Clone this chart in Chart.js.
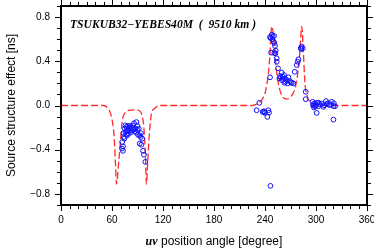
<!DOCTYPE html>
<html>
<head>
<meta charset="utf-8">
<script src="https://cdn.jsdelivr.net/npm/chart.js@4/dist/chart.umd.min.js"></script>
<style>
html,body{margin:0;padding:0;background:#fff;}
canvas{display:block;}
</style>
</head>
<body>
<canvas id="c" width="374" height="252"></canvas>
<script>
// ---- data ----
const chartTitle = "TSUKUB32\u2212YEBES40M  (  9510 km )";
const xTitleItalic = "uv";
const xTitleRest = " position angle [degree]";
const yTitle = "Source structure effect [ns]";

const xMajorTicks = [0, 60, 120, 180, 240, 300, 360];
const xMinorTicks = [10,20,30,40,50,70,80,90,100,110,130,140,150,160,170,190,200,210,220,230,250,260,270,280,290,310,320,330,340,350];
const yMajorTicks = [-0.8, -0.4, 0.0, 0.4, 0.8];
const yMinorTicks = [-0.9,-0.7,-0.6,-0.5,-0.3,-0.2,-0.1,0.1,0.2,0.3,0.5,0.6,0.7,0.9];

// model curve (red dashed)
const modelAngles = [0, 50, 55.3, 59.3, 62.4, 64.0, 65.2, 67.9, 69.9, 71.8, 74.9, 80.8, 85.0, 90.6, 95.3, 97.6, 99.3, 100.5, 102.4, 104.4, 106.4, 110.2, 115,
  225, 230, 236, 240, 242, 244, 245.9, 247.9, 250.6, 253.0, 255.7, 259.6, 265.5, 270.2, 275.3, 278.5, 281.2, 283.2, 285.2, 287.0, 289.9, 295, 300, 305, 360];
const modelValues = [0, 0, -0.027, -0.10, -0.27, -0.51, -0.71, -0.51, -0.33, -0.15, -0.073, -0.043, -0.04, -0.043, -0.088, -0.21, -0.45, -0.71, -0.45, -0.21, -0.073, -0.027, 0,
  0, 0.012, 0.048, 0.109, 0.185, 0.29, 0.47, 0.715, 0.594, 0.35, 0.2, 0.094, 0.057, 0.078, 0.155, 0.29, 0.503, 0.715, 0.47, 0.2, 0.078, 0.024, 0.005, 0, 0];

// observed points (blue circles)
const obsAngles = [
  72.9, 71.8, 72.9, 72.0, 92.6, 94.6, 96.5, 97.6, 99.2,
  75.0, 75.7, 76.9, 78.8, 79.6, 82.0, 82.8, 84.7, 86.7, 88.7, 90.6, 92.6, 93.8, 74.1, 75.7, 78.8, 84.7, 89.9, 91.4, 88.7, 85.9, 80.8, 76.9,
  77.5, 80.0, 81.5, 83.5, 87.5, 89.5, 73.5, 74.5, 77.8, 95.5, 94.0,
  230.2, 233.4, 237.3, 238.8, 240.0, 244.0, 244.7, 242.8, 239.0, 245.9,
  245.9, 247.9, 249.0, 246.7, 250.6, 247.1, 251.0, 251.0, 251.8, 252.6, 252.2, 253.8, 253.8, 248.5, 250.0,
  255.3, 259.6, 257.7, 260.8, 262.4, 263.5, 265.5, 262.8, 266.7, 269.4, 271.4, 273.4, 267.5, 259.6, 256.9, 261.0, 264.0, 258.5, 270.5,
  275.0, 277.3, 279.3, 278.5, 282.0, 284.4, 283.2, 282.8,
  287.9, 287.9,
  296.0, 297.0, 298.8, 297.6, 301.6, 304.0, 306.7, 309.4, 311.8, 312.6, 315.8, 318.5, 320.5, 322.4, 300.8, 320.5, 302.8, 308.7, 299.0, 300.0, 303.0, 314.0, 317.0, 321.0, 296.5,
  246.4];
const obsValues = [
  -0.37, -0.39, -0.41, -0.33, -0.345, -0.355, -0.41, -0.445, -0.51,
  -0.21, -0.24, -0.26, -0.225, -0.255, -0.21, -0.24, -0.215, -0.235, -0.245, -0.265, -0.27, -0.285, -0.285, -0.18, -0.185, -0.18, -0.185, -0.21, -0.15, -0.16, -0.185, -0.195,
  -0.23, -0.2, -0.225, -0.2, -0.21, -0.22, -0.25, -0.3, -0.27, -0.3, -0.25,
  -0.043, 0.024, -0.058, -0.052, -0.067, -0.043, -0.064, -0.103, -0.06, 0.255,
  0.618, 0.64, 0.624, 0.61, 0.63, 0.478, 0.473, 0.564, 0.539, 0.496, 0.473, 0.427, 0.396, 0.6, 0.58,
  0.336, 0.297, 0.266, 0.26, 0.275, 0.245, 0.23, 0.205, 0.2, 0.22, 0.205, 0.2, 0.255, 0.23, 0.245, 0.24, 0.215, 0.255, 0.21,
  0.305, 0.366, 0.418, 0.396, 0.518, 0.518, 0.533, 0.51,
  0.124, 0.057,
  0.033, 0.012, -0.006, -0.018, 0.024, 0.012, 0.018, 0.003, 0.04, 0.012, 0.003, 0.033, -0.006, -0.006, -0.067, -0.128, -0.006, -0.012, 0.02, 0.0, 0.025, 0.02, 0.01, 0.02, 0.0,
  -0.727];

// ---- build chart ----
const modelData = modelAngles.map((a, i) => ({x: a, y: modelValues[i]}));
const obsData = obsAngles.map((a, i) => ({x: a, y: obsValues[i]}));

function fmtY(v) {
  const s = Math.abs(v).toFixed(1);
  return (v < -1e-9 ? "\u2212" : "") + s;
}

const framePlugin = {
  id: 'frame',
  afterDraw(chart) {
    const ctx = chart.ctx;
    const a = chart.chartArea;
    const xs = chart.scales.x, ys = chart.scales.y;
    ctx.save();
    ctx.strokeStyle = '#000';
    ctx.lineWidth = 1;
    ctx.beginPath();
    const tick = (vals, len, isX) => {
      vals.forEach(v => {
        if (isX) {
          const p = Math.round(xs.getPixelForValue(v)) + 0.5;
          ctx.moveTo(p, a.bottom); ctx.lineTo(p, a.bottom + len);
          ctx.moveTo(p, a.top); ctx.lineTo(p, a.top - len);
        } else {
          const p = Math.round(ys.getPixelForValue(v)) + 0.5;
          ctx.moveTo(a.left, p); ctx.lineTo(a.left - len, p);
          ctx.moveTo(a.right, p); ctx.lineTo(a.right + len, p);
        }
      });
    };
    tick(xMajorTicks, 6, true);
    tick(xMinorTicks, 4, true);
    tick(yMajorTicks, 6, false);
    tick(yMinorTicks, 4, false);
    ctx.stroke();
    ctx.lineWidth = 2;
    ctx.strokeRect(a.left, a.top, a.right - a.left, a.bottom - a.top);
    ctx.fillStyle = '#000';
    ctx.font = 'italic bold 11.6px "Liberation Serif", "DejaVu Serif", serif';
    ctx.textBaseline = 'alphabetic';
    ctx.textAlign = 'left';
    ctx.fillText(chartTitle, a.left + 9, a.top + 22);
    const f1 = 'italic bold 12px "Liberation Serif", serif';
    const f2 = '12px "Liberation Sans", Arial, sans-serif';
    ctx.font = f1; const w1 = ctx.measureText(xTitleItalic).width;
    ctx.font = f2; const w2 = ctx.measureText(xTitleRest).width;
    const cx = (a.left + a.right) / 2;
    let x0 = cx - (w1 + w2) / 2;
    const by = 245;
    ctx.font = f1; ctx.fillText(xTitleItalic, x0, by);
    ctx.font = f2; ctx.fillText(xTitleRest, x0 + w1, by);
    ctx.restore();
  }
};

new Chart(document.getElementById('c'), {
  type: 'scatter',
  data: {
    datasets: [
      {
        data: modelData,
        showLine: true,
        borderColor: '#ff2a2a',
        borderWidth: 1.3,
        borderDash: [7, 3],
        pointRadius: 0,
        fill: false,
        cubicInterpolationMode: 'monotone',
        order: 2
      },
      {
        data: obsData,
        showLine: false,
        pointStyle: 'circle',
        pointRadius: 2.4,
        pointBorderWidth: 1,
        pointBorderColor: '#1010ff',
        pointBackgroundColor: 'rgba(0,0,0,0)',
        order: 1
      }
    ]
  },
  options: {
    responsive: false,
    animation: false,
    devicePixelRatio: 1,
    layout: {padding: {left: 0, right: 7, top: 6, bottom: 0}},
    plugins: {legend: {display: false}, tooltip: {enabled: false}},
    scales: {
      x: {
        type: 'linear', min: 0, max: 360,
        grid: {display: false, drawTicks: false},
        border: {display: false},
        afterBuildTicks: s => { s.ticks = xMajorTicks.map(v => ({value: v})); },
        afterFit: s => { s.height = 47; s.paddingLeft = 0; s.paddingRight = 0; },
        ticks: {
          color: '#000', padding: 9, maxRotation: 0, autoSkip: false,
          font: {family: '"Liberation Sans", Arial, sans-serif', size: 10},
          callback: v => String(v)
        }
      },
      y: {
        type: 'linear', min: -0.9, max: 0.9,
        grid: {display: false, drawTicks: false},
        border: {display: false},
        afterBuildTicks: s => { s.ticks = yMajorTicks.map(v => ({value: v})); },
        afterFit: s => { s.width = 61; s.paddingTop = 0; s.paddingBottom = 0; },
        title: {
          display: true, text: yTitle, color: '#000',
          font: {family: '"Liberation Sans", Arial, sans-serif', size: 12},
          padding: {top: 4, bottom: 0}
        },
        ticks: {
          color: '#000', padding: 11, autoSkip: false,
          font: {family: '"Liberation Sans", Arial, sans-serif', size: 10},
          callback: v => fmtY(v)
        }
      }
    }
  },
  plugins: [framePlugin]
});
</script>
</body>
</html>
